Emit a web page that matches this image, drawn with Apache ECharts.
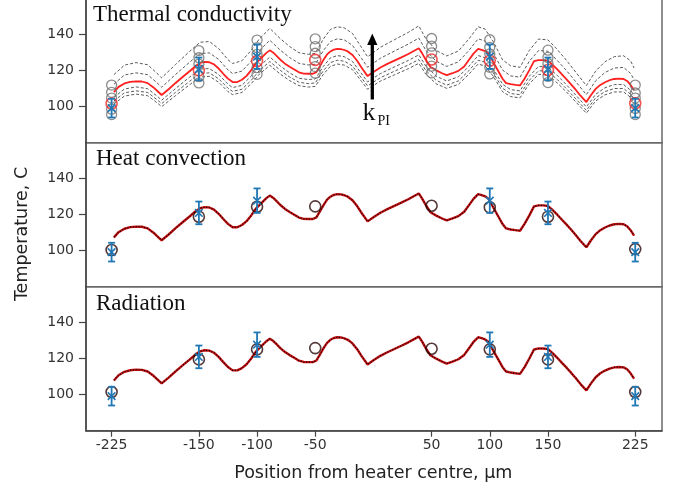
<!DOCTYPE html>
<html><head><meta charset="utf-8">
<script src="https://cdn.jsdelivr.net/npm/echarts@6.0.0/dist/echarts.min.js"></script>
<style>html,body{margin:0;padding:0;background:#fff}#c{width:675px;height:492px}</style>
</head><body><div id="c"></div>
<script>
// simulated temperature profiles (dense x grid)
const xSim = [-223,-219,-214,-209,-204,-199,-194,-189,-185,-182,-176,-170,-164,-158,-153,-149,-145,-141,-137,-133,-129,-125,-121,-117,-113,-109,-105,-101,-98,-95,-92,-89,-86,-83,-80,-76,-72,-68,-64,-60,-56,-52,-49,-46,-43,-40,-37,-34,-31,-28,-25,-22,-18,-14,-10,-5,0,6,12,18,24,30,35,39,42,45,49,54,59,63,68,73,78,82,86,90,93,96,99,103,107,111,114,118,122,126,130,134,138,142,146,150,154,158,162,166,170,174,178,183,187,191,195,199,203,207,211,215,218,221,224];
const tempCondBest = [108.1,111.0,112.9,113.8,114.1,114.0,113.1,110.7,108.3,106.5,109.7,113.2,116.5,119.7,122.5,124.3,124.9,124.7,123.5,121.2,118.3,115.6,113.7,113.7,115.0,117.1,120.3,124.1,126.0,128.0,129.9,131.3,130.0,128.1,126.1,123.9,122.2,120.7,119.1,118.4,118.3,118.3,119.2,122.5,125.9,128.9,130.7,131.7,132.1,132.0,131.5,130.7,128.7,125.5,121.5,117.0,119.3,121.8,123.8,125.6,127.4,129.3,131.1,132.5,129.5,126.1,122.1,120.2,118.6,117.5,118.6,119.9,122.3,125.9,129.5,132.1,131.6,130.9,129.5,124.7,120.1,115.5,113.1,112.5,112.1,111.8,115.7,120.3,125.3,125.9,125.9,125.5,123.3,120.7,117.9,115.2,112.3,109.3,106.1,102.6,106.5,109.9,112.1,113.6,114.7,115.4,115.6,115.4,114.3,112.1,109.1];
const tempConv = [107.4,110.3,112.2,113.1,113.4,113.3,112.4,110.0,107.6,105.8,109.0,112.5,115.8,119.0,121.8,123.6,124.2,124.0,122.8,120.5,117.6,114.9,113.0,113.0,114.3,116.4,119.6,123.4,125.3,127.3,129.2,130.6,129.3,127.4,125.4,123.2,121.5,120.0,118.4,117.7,117.6,117.6,118.5,121.8,125.2,128.2,130.0,131.0,131.4,131.3,130.8,130.0,128.0,124.8,120.8,116.3,118.6,121.1,123.1,124.9,126.7,128.6,130.4,131.8,128.8,125.4,121.4,119.5,117.9,116.8,117.9,119.2,121.6,125.2,128.8,131.4,130.9,130.2,128.8,124.0,119.4,114.8,112.4,111.8,111.4,111.1,115.0,119.6,124.6,125.2,125.2,124.8,122.6,120.0,117.2,114.5,111.6,108.6,105.4,101.9,105.8,109.2,111.4,112.9,114.0,114.7,114.9,114.7,113.6,111.4,108.4];
const tempRad = [107.9,110.8,112.7,113.6,113.9,113.8,112.9,110.5,108.1,106.3,109.5,113.0,116.3,119.5,122.3,124.1,124.7,124.5,123.3,121.0,118.1,115.4,113.5,113.5,114.8,116.9,120.1,123.9,125.8,127.8,129.7,131.1,129.8,127.9,125.9,123.7,122.0,120.5,118.9,118.2,118.1,118.1,119.0,122.3,125.7,128.7,130.5,131.5,131.9,131.8,131.3,130.5,128.5,125.3,121.3,116.8,119.1,121.6,123.6,125.4,127.2,129.1,130.9,132.3,129.3,125.9,121.9,120.0,118.4,117.3,118.4,119.7,122.1,125.7,129.3,131.9,131.4,130.7,129.3,124.5,119.9,115.3,112.9,112.3,111.9,111.6,115.5,120.1,125.1,125.7,125.7,125.3,123.1,120.5,117.7,115.0,112.1,109.1,105.9,102.4,106.3,109.7,111.9,113.4,114.5,115.2,115.4,115.2,114.1,111.9,108.9];

// k_PI sweep (grey dashed curves, coarser x grid)
const xK = [-223,-214,-204,-194,-185,-182,-170,-158,-149,-141,-133,-125,-121,-113,-105,-98,-89,-80,-72,-64,-56,-50,-43,-37,-31,-25,-18,-10,-5,6,18,30,39,45,54,63,73,82,90,96,103,111,118,126,134,142,150,158,166,174,183,191,199,207,215,221,224];
const tempK1 = [117.8,123.1,124.5,123.3,118.0,116.0,123.5,130.7,135.8,136.2,132.3,126.1,124.0,125.5,131.3,137.7,143.5,137.8,133.4,130.0,129.1,129.6,137.6,142.9,144.4,143.8,140.7,132.7,127.7,133.0,137.2,141.3,144.9,137.8,131.2,128.2,130.9,137.6,144.4,143.1,136.2,126.0,122.7,121.9,131.3,137.6,137.1,131.8,125.7,119.1,111.7,119.8,125.0,127.8,128.3,125.5,121.5];
const tempK2 = [112.5,117.6,118.8,117.8,112.7,110.8,117.9,124.7,129.5,129.9,126.3,120.4,118.4,119.8,125.3,131.3,136.9,131.4,127.3,124.1,123.2,123.6,131.2,136.2,137.7,137.1,134.1,126.6,121.9,126.9,130.9,134.8,138.1,131.4,125.2,122.4,124.9,131.2,137.7,136.5,129.9,120.3,117.1,116.4,125.3,131.2,130.8,125.7,120.0,113.8,106.7,114.4,119.0,121.5,121.8,118.5,115.0];
const tempK3 = [105.2,109.8,111.0,110.0,105.4,103.6,110.1,116.4,120.9,121.2,117.9,112.5,110.6,111.9,117.0,122.5,127.6,122.6,118.8,115.8,115.1,115.4,122.4,127.1,128.4,127.8,125.1,118.2,113.8,118.4,122.1,125.7,128.8,122.6,116.9,114.3,116.6,122.4,128.4,127.2,121.2,112.4,109.5,108.8,117.0,122.4,122.0,117.4,112.1,106.4,99.9,106.9,110.5,112.3,112.3,109.1,106.2];
const tempK4 = [103.2,107.7,108.8,107.9,103.4,101.7,108.0,114.1,118.5,118.8,115.5,110.3,108.5,109.7,114.7,120.1,125.1,120.2,116.5,113.6,112.8,113.2,120.0,124.5,125.8,125.3,122.6,115.8,111.6,116.1,119.7,123.2,126.2,120.2,114.6,112.0,114.3,120.0,125.8,124.7,118.8,110.2,107.3,106.7,114.7,120.0,119.6,115.1,109.9,104.3,98.0,104.9,108.4,110.1,110.1,106.9,104.1];
const tempK5 = [101.5,105.9,107.0,106.1,101.7,100.0,106.2,112.2,116.5,116.9,113.6,108.4,106.7,107.9,112.8,118.1,123.0,118.1,114.5,111.7,110.9,111.3,118.0,122.4,123.7,123.1,120.6,113.9,109.7,114.2,117.7,121.1,124.1,118.1,112.7,110.2,112.4,118.0,123.7,122.6,116.9,108.3,105.6,104.9,112.8,118.0,117.6,113.2,108.1,102.6,96.4,103.2,106.6,108.2,108.2,105.2,102.4];

// model values at the thermocouple positions (circles)
const xPts = [-225,-150,-100,-50,50,100,150,225];
const ptsCondBest = [101.8,120.2,125.4,126.0,126.2,125.6,120.4,101.9];
const ptsK1 = [112.0,131.2,137.0,137.7,137.9,137.2,131.4,112.0];
const ptsK2 = [108.0,127.2,132.8,133.4,133.6,133.0,127.4,107.6];
const ptsK3 = [104.8,123.7,129.1,129.7,129.9,129.3,123.9,104.8];
const ptsK4 = [98.6,116.7,121.7,122.3,122.5,121.9,116.9,99.0];
const ptsK5 = [95.6,113.2,118.0,118.6,118.8,118.2,113.4,95.6];
const ptsConv = [100.4,118.9,124.4,124.6,125.0,124.1,118.9,100.9];
const ptsRad = [101.5,119.6,125.2,125.9,125.5,125.2,119.6,101.5];

// experimental measurements
const xExp = [-225,-150,-100,100,150,225];
const expMean = [99.2,121.0,127.8,127.8,121.0,99.2];
const expErr = [5.2,6.3,6.8,6.8,6.3,5.2];

const xTickVals = [-225,-150,-100,-50,50,100,150,225];
const yTickVals = [100,120,140];
const panelTitles = ['Thermal conductivity','Heat convection','Radiation'];
const xTitle = 'Position from heater centre, µm';
const yTitle = 'Temperature, C';

const BLUE = '#1f77b4';
const SANS = 'DejaVu Sans';
const SERIF = 'Liberation Serif';
const pairs = (xs, ys) => xs.map((x, i) => [x, ys[i]]);

const gridTops = [-1.3, 142.7, 286.7];
const grids = gridTops.map(t => ({left: 86, right: 13, top: t, height: 144, show: true,
  borderColor: '#6a6a6a', borderWidth: 1.5, outerBoundsMode: 'none'}));

const xAxes = gridTops.map((t, i) => ({
  type: 'value', gridIndex: i, min: -247, max: 248,
  show: i === 2,
  axisLine: {show: true, onZero: false, lineStyle: {color: '#444', width: 1.5}},
  axisTick: {show: true, length: 6, customValues: xTickVals, lineStyle: {color: '#444', width: 1.2}},
  axisLabel: {customValues: xTickVals, color: '#333', fontFamily: SANS, fontSize: 14, margin: 8},
  splitLine: {show: false}
}));
const yAxes = gridTops.map((t, i) => ({
  type: 'value', gridIndex: i, min: 80, max: 160,
  axisLine: {show: true, onZero: false, lineStyle: {color: '#444', width: 1.5}},
  axisTick: {show: true, length: 7, customValues: yTickVals, lineStyle: {color: '#444', width: 1.2}},
  axisLabel: {customValues: yTickVals, color: '#333', fontFamily: SANS, fontSize: 14, margin: 12},
  splitLine: {show: false}
}));

function errRender(params, api) {
  const x = api.value(0), m = api.value(1), e = api.value(2);
  const t = api.coord([x, m + e]), b = api.coord([x, m - e]), c = api.coord([x, m]);
  const cap = 3.5, s = 3.8;
  const st = {stroke: BLUE, lineWidth: 1.8};
  return {type: 'group', children: [
    {type: 'line', shape: {x1: t[0], y1: t[1], x2: b[0], y2: b[1]}, style: st},
    {type: 'line', shape: {x1: t[0] - cap, y1: t[1], x2: t[0] + cap, y2: t[1]}, style: st},
    {type: 'line', shape: {x1: b[0] - cap, y1: b[1], x2: b[0] + cap, y2: b[1]}, style: st},
    {type: 'line', shape: {x1: c[0] - s, y1: c[1] - s, x2: c[0] + s, y2: c[1] + s}, style: {stroke: BLUE, lineWidth: 1.6}},
    {type: 'line', shape: {x1: c[0] - s, y1: c[1] + s, x2: c[0] + s, y2: c[1] - s}, style: {stroke: BLUE, lineWidth: 1.6}}
  ]};
}
const errSeries = (gi) => ({
  type: 'custom', xAxisIndex: gi, yAxisIndex: gi, renderItem: errRender, z: 10,
  encode: {x: 0, y: 1},
  data: xExp.map((x, i) => [x, expMean[i], expErr[i]])
});
const circ = (gi, ys, color, size, bw, z) => ({
  type: 'scatter', xAxisIndex: gi, yAxisIndex: gi, symbol: 'circle', symbolSize: size, z: z || 5,
  itemStyle: {color: 'rgba(0,0,0,0)', borderColor: color, borderWidth: bw},
  data: pairs(xPts, ys)
});
const line = (gi, xs, ys, color, width, type, z) => ({
  type: 'line', xAxisIndex: gi, yAxisIndex: gi, symbol: 'none', z: z || 3,
  lineStyle: {color: color, width: width, type: type || 'solid'},
  data: pairs(xs, ys)
});

const series = [];
[tempK1, tempK2, tempK3, tempK4, tempK5].forEach(k => series.push(line(0, xK, k, '#5a5a5a', 1, [3, 2])));
series.push(line(0, xSim, tempCondBest, '#ff2020', 1.8, 'solid', 4));
[ptsK1, ptsK2, ptsK3, ptsK4, ptsK5].forEach(p => series.push(circ(0, p, '#707070', 10, 1.3)));
series.push(circ(0, ptsCondBest, '#f02828', 11, 1.6, 6));
series.push(errSeries(0));

series.push(line(1, xSim, tempConv, '#c01010', 2.4, 'solid', 3));
series.push(line(1, xSim, tempConv, '#1a0000', 1.1, [1.2, 1.6], 4));
series.push(circ(1, ptsConv, '#2a0808', 11, 1.6));
series.push(errSeries(1));

series.push(line(2, xSim, tempRad, '#c01010', 2.4, 'solid', 3));
series.push(line(2, xSim, tempRad, '#1a0000', 1.1, [1.2, 1.6], 4));
series.push(circ(2, ptsRad, '#2a0808', 11, 1.6));
series.push(errSeries(2));

const titleStyle = (txt, x, y) => ({type: 'text', x: x, y: y, z: 20,
  style: {text: txt, fill: '#111', font: '23px "' + SERIF + '"', align: 'left', verticalAlign: 'middle'}});

const chart = echarts.init(document.getElementById('c'), null, {renderer: 'canvas'});
chart.setOption({
  animation: false,
  backgroundColor: '#fff',
  grid: grids, xAxis: xAxes, yAxis: yAxes, series: series,
  graphic: [
    titleStyle(panelTitles[0], 93, 15),
    titleStyle(panelTitles[1], 96, 159),
    titleStyle(panelTitles[2], 96, 303.5),
    {type: 'text', x: 362.5, y: 113.5, z: 20, style: {text: 'k', fill: '#111', font: '26px "' + SERIF + '"', align: 'left', verticalAlign: 'middle'}},
    {type: 'text', x: 377.5, y: 121.5, z: 20, style: {text: 'PI', fill: '#111', font: '14px "' + SERIF + '"', align: 'left', verticalAlign: 'middle'}},
    {type: 'line', z: 20, shape: {x1: 372.3, y1: 99.5, x2: 372.3, y2: 42}, style: {stroke: '#000', lineWidth: 3.3}},
    {type: 'polygon', z: 20, shape: {points: [[372.3, 33.5], [367.2, 45], [377.4, 45]]}, style: {fill: '#000'}},
    {type: 'text', x: 373.3, y: 473, z: 20, style: {text: xTitle, fill: '#222', font: '17.5px "' + SANS + '"', align: 'center', verticalAlign: 'middle'}},
    {type: 'text', x: 22, y: 234, rotation: Math.PI / 2, z: 20, style: {text: yTitle, fill: '#222', font: '17.5px "' + SANS + '"', align: 'center', verticalAlign: 'middle'}}
  ]
});
</script></body></html>
